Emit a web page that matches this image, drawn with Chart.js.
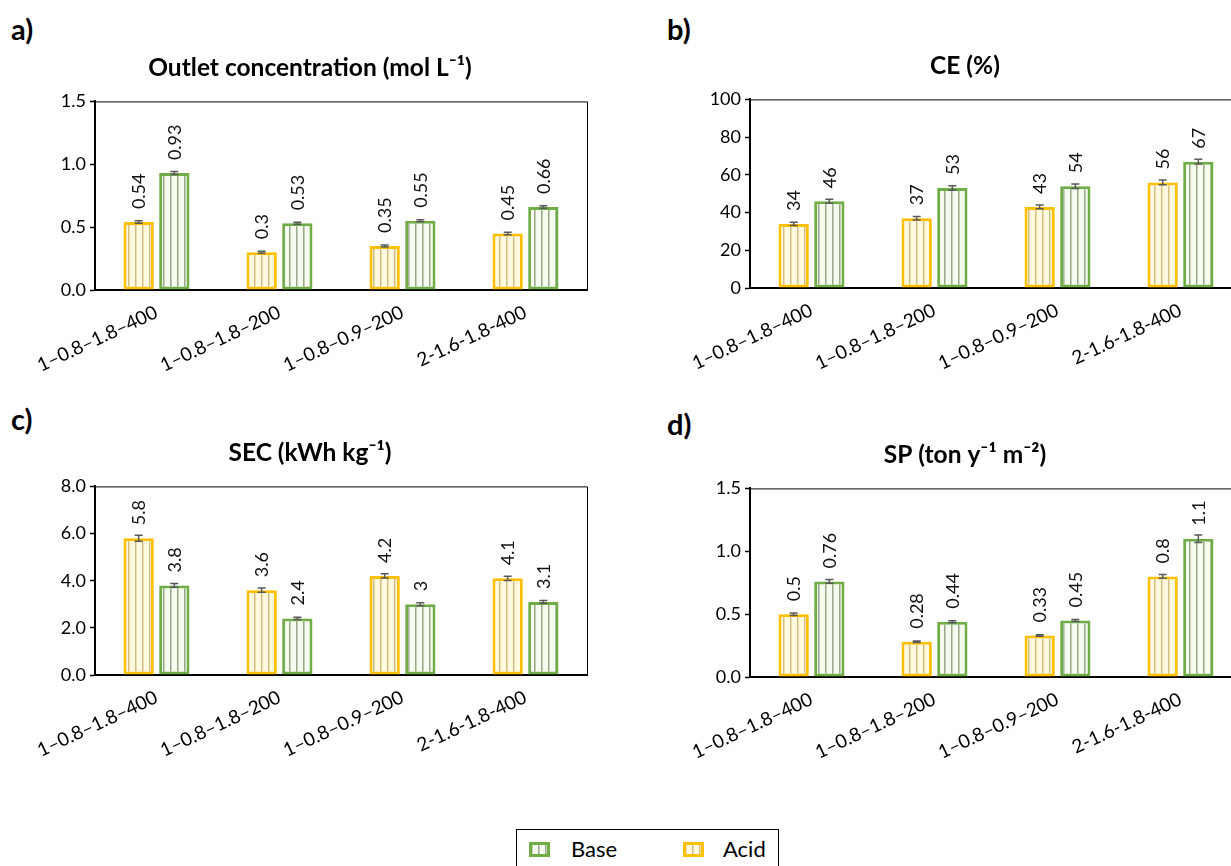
<!DOCTYPE html>
<html>

<head>
    <meta charset="utf-8">
    <title>Acid / Base performance</title>
</head>

<style>
    body {
        margin: 0;
        width: 1231px;
        height: 866px;
        overflow: hidden;
        background-color: #ffffff;
        font-family: Lato, sans-serif;
        position: relative;
    }

    canvas {
        position: absolute;
    }

    .tag {
        position: absolute;
        font-weight: bold;
        font-size: 29px;
        line-height: 1;
        color: #000;
    }

    .legend {
        position: absolute;
        left: 516px;
        top: 829px;
        width: 263px;
        height: 60px;
        border: 1px solid #000;
        box-sizing: border-box;
    }

    .legend canvas {
        position: absolute;
        top: 12px;
    }

    .legend span {
        position: absolute;
        top: 8px;
        font-size: 22px;
        line-height: 1;
        color: #000;
    }
</style>

<body>
    <div class="tag" style="left:11px; top:14px;">a)</div>
    <div class="tag" style="left:667px; top:14px;">b)</div>
    <div class="tag" style="left:11px; top:404px;">c)</div>
    <div class="tag" style="left:667px; top:409px;">d)</div>

    <canvas id="chartA" width="620" height="370" style="left:0px; top:30px;"></canvas>
    <canvas id="chartB" width="620" height="370" style="left:655px; top:28px;"></canvas>
    <canvas id="chartC" width="620" height="370" style="left:0px; top:415px;"></canvas>
    <canvas id="chartD" width="620" height="370" style="left:655px; top:417px;"></canvas>

    <div class="legend">
        <canvas id="swBase" width="21" height="15" style="left:12px;"></canvas>
        <span style="left:54px;">Base</span>
        <canvas id="swAcid" width="21" height="15" style="left:166px;"></canvas>
        <span style="left:206px;">Acid</span>
    </div>

    <script src="https://cdn.jsdelivr.net/npm/chart.js"></script>
    <script>
        // categories (conditions)
        const categories = ['1–0.8–1.8–400', '1–0.8–1.8–200', '1–0.8–0.9–200', '2-1.6-1.8-400'];

        // a) outlet concentration
        const concAcid = [0.54, 0.3, 0.35, 0.45];
        const concBase = [0.93, 0.53, 0.55, 0.66];
        const concAcidErr = [0.01, 0.008, 0.008, 0.01];
        const concBaseErr = [0.012, 0.008, 0.008, 0.01];
        const concTicks = [0, 0.5, 1.0, 1.5];

        // b) CE
        const ceAcid = [34, 37, 43, 56];
        const ceBase = [46, 53, 54, 67];
        const ceAcidErr = [0.8, 0.9, 1.0, 1.2];
        const ceBaseErr = [1.0, 1.2, 1.2, 1.2];
        const ceTicks = [0, 20, 40, 60, 80, 100];

        // c) SEC
        const secAcid = [5.8, 3.6, 4.2, 4.1];
        const secBase = [3.8, 2.4, 3, 3.1];
        const secAcidErr = [0.13, 0.09, 0.09, 0.09];
        const secBaseErr = [0.08, 0.05, 0.06, 0.06];
        const secTicks = [0, 2, 4, 6, 8];

        // d) SP
        const spAcid = [0.5, 0.28, 0.33, 0.8];
        const spBase = [0.76, 0.44, 0.45, 1.1];
        const spAcidErr = [0.01, 0.006, 0.006, 0.015];
        const spBaseErr = [0.015, 0.008, 0.008, 0.03];
        const spTicks = [0, 0.5, 1.0, 1.5];

        const ACID = '#FFC000';
        const BASE = '#70AD47';

        Chart.defaults.font.family = 'Lato, sans-serif';
        Chart.defaults.color = '#000';

        // vertical stripe fill like the excel pattern
        function stripes(bg, dark, light) {
            const c = document.createElement('canvas');
            c.width = 7;
            c.height = 2;
            const g = c.getContext('2d');
            g.fillStyle = bg;
            g.fillRect(0, 0, 7, 2);
            g.fillStyle = dark;
            g.fillRect(2, 0, 1, 2);
            g.fillStyle = light;
            g.fillRect(3, 0, 1, 2);
            return g.createPattern(c, 'repeat');
        }
        const acidFill = stripes('#FFFADF', '#D3BB85', '#EBDDB0');
        const baseFill = stripes('#F5FBEF', '#97A988', '#C3D0B7');

        // top + right border of the plot area
        const frame = {
            id: 'frame',
            afterDraw(chart) {
                const a = chart.chartArea, ctx = chart.ctx;
                ctx.save();
                ctx.strokeStyle = '#000';
                ctx.lineWidth = 1;
                ctx.beginPath();
                ctx.moveTo(a.left, a.top + 0.5);
                ctx.lineTo(a.right + 0.5, a.top + 0.5);
                ctx.lineTo(a.right + 0.5, a.bottom);
                ctx.stroke();
                ctx.restore();
            }
        };

        // error bars and rotated value labels
        const barExtras = {
            id: 'barExtras',
            afterDatasetsDraw(chart) {
                const ctx = chart.ctx, y = chart.scales.y;
                chart.data.datasets.forEach(function (ds, di) {
                    const meta = chart.getDatasetMeta(di);
                    meta.data.forEach(function (bar, i) {
                        const v = ds.data[i], e = ds.err[i];
                        const y1 = y.getPixelForValue(v + e);
                        const y2 = y.getPixelForValue(v - e);
                        ctx.save();
                        ctx.strokeStyle = '#595959';
                        ctx.lineWidth = 1.5;
                        ctx.beginPath();
                        ctx.moveTo(bar.x, y1);
                        ctx.lineTo(bar.x, y2);
                        ctx.moveTo(bar.x - 4, y1);
                        ctx.lineTo(bar.x + 4, y1);
                        ctx.moveTo(bar.x - 4, y2);
                        ctx.lineTo(bar.x + 4, y2);
                        ctx.stroke();

                        ctx.translate(bar.x, bar.y - 13);
                        ctx.rotate(-Math.PI / 2);
                        ctx.fillStyle = '#111';
                        ctx.font = '18px Lato, sans-serif';
                        ctx.textAlign = 'left';
                        ctx.textBaseline = 'middle';
                        ctx.fillText(String(v), 0, 1);
                        ctx.restore();
                    });
                });
            }
        };

        function makePanel(id, title, acid, base, acidErr, baseErr, ticks, decimals) {
            new Chart(document.getElementById(id), {
                type: 'bar',
                data: {
                    labels: categories,
                    datasets: [{
                        label: 'Acid',
                        data: acid,
                        err: acidErr,
                        backgroundColor: acidFill,
                        borderColor: ACID,
                        borderWidth: 3,
                        borderSkipped: false
                    }, {
                        label: 'Base',
                        data: base,
                        err: baseErr,
                        backgroundColor: baseFill,
                        borderColor: BASE,
                        borderWidth: 3,
                        borderSkipped: false
                    }]
                },
                options: {
                    responsive: false,
                    animation: false,
                    categoryPercentage: 0.58,
                    barPercentage: 0.85,
                    layout: { padding: 0 },
                    plugins: {
                        legend: { display: false },
                        tooltip: { enabled: false },
                        title: {
                            display: true,
                            text: title,
                            color: '#000',
                            font: { size: 24.5, weight: 'bold' },
                            padding: { top: 23, bottom: 19 }
                        }
                    },
                    scales: {
                        x: {
                            grid: { display: false },
                            border: { color: '#000', width: 2 },
                            ticks: {
                                autoSkip: false,
                                maxRotation: 25,
                                minRotation: 25,
                                padding: 3,
                                color: '#000',
                                font: { size: 19 }
                            },
                            afterFit(scale) { scale.height = 110; }
                        },
                        y: {
                            min: ticks[0],
                            max: ticks[ticks.length - 1],
                            afterBuildTicks(scale) {
                                scale.ticks = ticks.map(function (v) { return { value: v }; });
                            },
                            grid: {
                                drawOnChartArea: false,
                                drawTicks: true,
                                tickLength: 5,
                                tickWidth: 1.5,
                                color: '#000'
                            },
                            border: { color: '#000', width: 2 },
                            ticks: {
                                padding: 4,
                                color: '#000',
                                font: { size: 18 },
                                callback: function (v) { return Number(v).toFixed(decimals); }
                            },
                            afterFit(scale) { scale.width = 95; }
                        },
                        // empty right-hand axis, only there to reserve space so the title stays centred
                        yr: {
                            position: 'right',
                            grid: { display: false },
                            border: { display: false },
                            ticks: { display: false },
                            afterFit(scale) { scale.width = 33; }
                        }
                    }
                },
                plugins: [frame, barExtras]
            });
        }

        makePanel('chartA', 'Outlet concentration (mol L⁻¹)', concAcid, concBase, concAcidErr, concBaseErr, concTicks, 1);
        makePanel('chartB', 'CE (%)', ceAcid, ceBase, ceAcidErr, ceBaseErr, ceTicks, 0);
        makePanel('chartC', 'SEC (kWh kg⁻¹)', secAcid, secBase, secAcidErr, secBaseErr, secTicks, 1);
        makePanel('chartD', 'SP (ton y⁻¹ m⁻²)', spAcid, spBase, spAcidErr, spBaseErr, spTicks, 1);

        // legend swatches
        function swatch(id, fill, border) {
            const g = document.getElementById(id).getContext('2d');
            g.fillStyle = border;
            g.fillRect(0, 0, 21, 15);
            g.fillStyle = fill;
            g.fillRect(3, 3, 15, 9);
        }
        swatch('swBase', baseFill, BASE);
        swatch('swAcid', acidFill, ACID);
    </script>
</body>

</html>
